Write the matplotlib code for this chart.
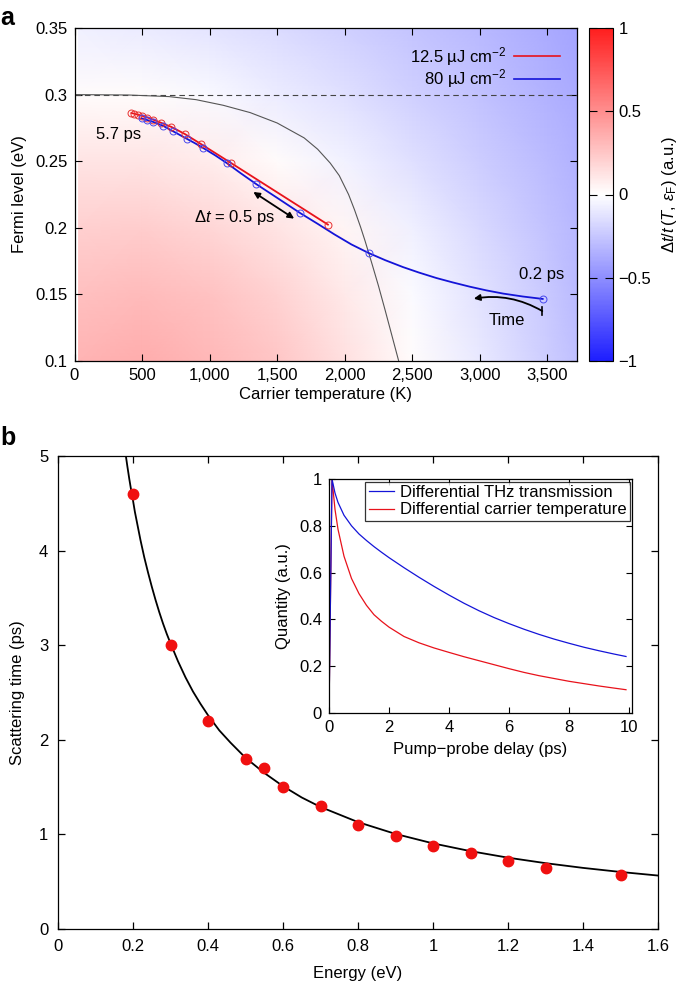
import matplotlib
matplotlib.use("Agg")
import matplotlib.pyplot as plt
import numpy as np
from matplotlib.colors import LinearSegmentedColormap
from matplotlib.lines import Line2D

plt.rcParams['font.family'] = ['Liberation Sans', 'DejaVu Sans']
plt.rcParams['font.size'] = 12
plt.rcParams['mathtext.fontset'] = 'custom'
plt.rcParams['mathtext.rm'] = 'Liberation Sans'
plt.rcParams['mathtext.it'] = 'Liberation Sans:italic'
plt.rcParams['mathtext.bf'] = 'Liberation Sans:bold'
plt.rcParams['axes.linewidth'] = 0.9

# ---------------- Panel a data ----------------
heat_T = [30, 500, 1000, 1500, 2000, 2500, 3000, 3500, 3720]
heat_mu = [0.10, 0.15, 0.20, 0.25, 0.30, 0.35]
heat_row_010 = [0.33, 0.36, 0.32, 0.25, 0.14, 0.01, -0.10, -0.22, -0.28]
heat_row_015 = [0.28, 0.30, 0.27, 0.20, 0.10, -0.02, -0.13, -0.24, -0.30]
heat_row_020 = [0.21, 0.22, 0.18, 0.12, 0.04, -0.07, -0.17, -0.27, -0.32]
heat_row_025 = [0.12, 0.12, 0.08, 0.02, -0.06, -0.14, -0.22, -0.30, -0.34]
heat_row_030 = [0.02, 0.01, -0.03, -0.08, -0.14, -0.21, -0.27, -0.34, -0.37]
heat_row_035 = [-0.07, -0.09, -0.12, -0.16, -0.21, -0.26, -0.31, -0.37, -0.40]

bound_T = [0, 400, 700, 900, 1100, 1300, 1500, 1700, 1800, 1893, 1960, 2029, 2073, 2118,
           2150, 2177, 2205, 2250, 2300, 2350, 2400]
bound_mu = [0.300, 0.2997, 0.2985, 0.2962, 0.2920, 0.2865, 0.2787, 0.2675, 0.2590, 0.2486,
            0.2392, 0.2250, 0.2135, 0.2005, 0.1905, 0.1815, 0.1720, 0.1565, 0.1380, 0.1190, 0.1000]

red_T = [1876, 1158, 936, 817, 718, 644, 582, 540, 503, 470, 444, 421]
red_mu = [0.2024, 0.2487, 0.2629, 0.2704, 0.2757, 0.2787, 0.2812, 0.2828, 0.2840, 0.2849, 0.2856, 0.2862]

blue_line_T = [3466, 3320, 3174, 3050, 2926, 2800, 2679, 2550, 2432, 2300, 2177, 2050, 1925,
               1800, 1670, 1500, 1344, 1230, 1126, 1040, 953, 890, 830, 731, 657, 582, 535, 496]
blue_line_mu = [0.1466, 0.1484, 0.1506, 0.1530, 0.1558, 0.1590, 0.1623, 0.1664, 0.1705, 0.1757,
                0.1811, 0.1875, 0.1950, 0.2030, 0.2111, 0.2225, 0.2329, 0.2410, 0.2487, 0.2545,
                0.2599, 0.2636, 0.2669, 0.2724, 0.2765, 0.2795, 0.2810, 0.2822]
blue_mark_T = [3466, 2177, 1670, 1344, 1126, 953, 830, 731, 657, 582, 535, 496]
blue_mark_mu = [0.1466, 0.1811, 0.2111, 0.2329, 0.2487, 0.2599, 0.2669, 0.2724, 0.2765, 0.2795, 0.2810, 0.2822]

a_xticks = [0, 500, 1000, 1500, 2000, 2500, 3000, 3500]
a_xticklabels = ['0', '500', '1,000', '1,500', '2,000', '2,500', '3,000', '3,500']
a_yticks = [0.1, 0.15, 0.2, 0.25, 0.3, 0.35]
a_yticklabels = ['0.1', '0.15', '0.2', '0.25', '0.3', '0.35']
cb_ticks = [-1, -0.5, 0, 0.5, 1]
cb_ticklabels = ['\u22121', '\u22120.5', '0', '0.5', '1']
legend_a = ['12.5 µJ cm$^{-2}$', '80 µJ cm$^{-2}$']

# ---------------- Panel b data ----------------
energy_pts = [0.2, 0.3, 0.4, 0.5, 0.55, 0.6, 0.7, 0.8, 0.9, 1.0, 1.1, 1.2, 1.3, 1.5]
tau_pts = [4.60, 3.00, 2.20, 1.80, 1.70, 1.50, 1.30, 1.10, 0.98, 0.88, 0.80, 0.72, 0.65, 0.57]
fit_E = [0.181, 0.185, 0.19, 0.195, 0.2, 0.205, 0.21, 0.215, 0.22, 0.23, 0.24, 0.25, 0.26,
         0.27, 0.28, 0.29, 0.3, 0.32, 0.34, 0.36, 0.38, 0.4, 0.43, 0.46, 0.5, 0.55, 0.6,
         0.65, 0.7, 0.75, 0.8, 0.9, 1.0, 1.1, 1.2, 1.3, 1.4, 1.5, 1.6]
fit_tau = [5.00, 4.89, 4.76, 4.64, 4.53, 4.41, 4.31, 4.21, 4.11, 3.93, 3.77, 3.62, 3.48,
           3.35, 3.23, 3.12, 3.02, 2.83, 2.66, 2.51, 2.38, 2.26, 2.10, 1.97, 1.81, 1.65, 1.51,
           1.39, 1.29, 1.21, 1.13, 1.005, 0.905, 0.823, 0.754, 0.696, 0.646, 0.603, 0.565]
b_xticks = [0, 0.2, 0.4, 0.6, 0.8, 1.0, 1.2, 1.4, 1.6]
b_xticklabels = ['0', '0.2', '0.4', '0.6', '0.8', '1', '1.2', '1.4', '1.6']
b_yticks = [0, 1, 2, 3, 4, 5]

# inset
inset_t = [0, 0.1, 0.2, 0.3, 0.5, 0.75, 1.0, 1.25, 1.5, 1.75, 2.0, 2.5, 3.0, 3.5, 4.0,
           4.5, 5.0, 5.5, 6.0, 6.5, 7.0, 7.5, 8.0, 8.5, 9.0, 9.5, 9.9]
inset_thz = [0, 1.0, 0.94, 0.90, 0.845, 0.80, 0.765, 0.737, 0.711, 0.687, 0.664, 0.621,
             0.580, 0.541, 0.504, 0.469, 0.437, 0.408, 0.382, 0.358, 0.336, 0.316, 0.298,
             0.281, 0.266, 0.252, 0.2415]
inset_temp = [0, 1.0, 0.87, 0.785, 0.67, 0.575, 0.51, 0.46, 0.42, 0.392, 0.367, 0.327,
              0.300, 0.278, 0.259, 0.2405, 0.2235, 0.2065, 0.1895, 0.1735, 0.1595, 0.1475,
              0.1355, 0.1255, 0.1155, 0.1065, 0.0995]
inset_xticks = [0, 2, 4, 6, 8, 10]
inset_yticks = [0, 0.2, 0.4, 0.6, 0.8, 1.0]
inset_yticklabels = ['0', '0.2', '0.4', '0.6', '0.8', '1']
legend_inset = ['Differential THz transmission', 'Differential carrier temperature']

# ---------------- Figure ----------------
W, H = 685, 985
fig = plt.figure(figsize=(W / 100, H / 100), dpi=100)

def rect(l, t, r, b):
    return [l / W, 1 - b / H, (r - l) / W, (b - t) / H]

cmap = LinearSegmentedColormap.from_list('rwb', ['#1e1eff', '#ffffff', '#ff1e1e'])

# Panel a
ax = fig.add_axes(rect(74.5, 28, 577, 361))
Z = np.array([heat_row_010, heat_row_015, heat_row_020, heat_row_025, heat_row_030, heat_row_035])
mesh = ax.pcolormesh(heat_T, heat_mu, Z, shading='gouraud', cmap=cmap, vmin=-1, vmax=1, rasterized=True)
ax.axhline(0.3, color='#444444', lw=0.8, ls=(0, (5, 3.5)))
ax.plot(bound_T, bound_mu, color='#555555', lw=0.8)
ax.plot(red_T, red_mu, color='#e8121b', lw=1.3, zorder=4)
ax.plot(red_T, red_mu, ls='none', marker='o', ms=5, mfc='none', mec='#e8302f', mew=0.7, zorder=5)
ax.plot(blue_line_T, blue_line_mu, color='#1414d8', lw=1.3, zorder=4)
ax.plot(blue_mark_T, blue_mark_mu, ls='none', marker='o', ms=5, mfc='none', mec='#4848ee', mew=0.7, zorder=5)

ax.set_xlim(0, 3720)
ax.set_ylim(0.1, 0.35)
ax.set_xticks(a_xticks)
ax.set_xticklabels(a_xticklabels)
ax.set_yticks(a_yticks)
ax.set_yticklabels(a_yticklabels)
ax.tick_params(direction='in', top=True, right=True, length=5, width=0.8, pad=5)
ax.set_xlabel('Carrier temperature (K)', labelpad=3)
ax.set_ylabel('Fermi level (eV)', labelpad=6)

ax.text(160, 0.2697, '5.7 ps', ha='left', va='center')
ax.text(3629, 0.1653, '0.2 ps', ha='right', va='center')
ax.text(3201, 0.1303, 'Time', ha='center', va='center')
ax.text(1490, 0.2079, r'$\Delta t$ = 0.5 ps', ha='right', va='center')
ax.annotate('', xy=(1626, 0.2069), xytext=(1324, 0.2269),
            arrowprops=dict(arrowstyle='<|-|>', color='black', lw=1.3, mutation_scale=9,
                            shrinkA=0, shrinkB=0))
ax.annotate('', xy=(2956, 0.1468), xytext=(3463, 0.1375),
            arrowprops=dict(arrowstyle='-|>', color='black', lw=1.3, mutation_scale=9,
                            shrinkA=0, shrinkB=0, connectionstyle='arc3,rad=0.18'))
ax.plot([3463, 3463], [0.1345, 0.1405], color='black', lw=1.2)

handles = [Line2D([], [], color='#e8121b', lw=1.2), Line2D([], [], color='#1414d8', lw=1.2)]
ax.legend(handles, legend_a, loc='upper right', frameon=False, markerfirst=False,
          handlelength=2.8, handletextpad=0.4, labelspacing=0.0, borderaxespad=0.6,
          bbox_to_anchor=(1.0, 1.0))

cax = fig.add_axes(rect(589, 28, 613, 361))
cb = fig.colorbar(mesh, cax=cax)
cb.set_ticks(cb_ticks)
cb.set_ticklabels(cb_ticklabels)
cb.outline.set_linewidth(0.8)
cax.tick_params(direction='in', left=True, right=True, length=6, width=0.8, pad=4)
cax.set_ylabel(r'$\Delta t/t\,(T,\,\varepsilon_{\mathrm{F}})$ (a.u.)', labelpad=6)

# Panel b
bx = fig.add_axes(rect(58, 456, 658, 929))
bx.plot(fit_E, fit_tau, color='black', lw=1.3, zorder=3)
bx.plot(energy_pts, tau_pts, ls='none', marker='o', ms=7.5, color='#f01010', zorder=4)
bx.set_xlim(0, 1.6)
bx.set_ylim(0, 5)
bx.set_xticks(b_xticks)
bx.set_xticklabels(b_xticklabels)
bx.set_yticks(b_yticks)
bx.tick_params(direction='in', top=True, right=True, length=5, width=0.9, pad=7)
bx.set_xlabel('Energy (eV)', labelpad=9)
bx.set_ylabel('Scattering time (ps)', labelpad=10)

ix = fig.add_axes(rect(329, 479, 632, 713))
ix.plot(inset_t, inset_temp, color='#e8121b', lw=0.9)
ix.plot(inset_t, inset_thz, color='#1414d8', lw=0.9)
ix.set_xlim(0, 10.1)
ix.set_ylim(0, 1)
ix.set_xticks(inset_xticks)
ix.set_yticks(inset_yticks)
ix.set_yticklabels(inset_yticklabels)
ix.tick_params(direction='in', top=True, right=True, length=4, width=0.8, pad=5)
ix.set_xlabel('Pump\u2212probe delay (ps)', labelpad=5)
ix.set_ylabel('Quantity (a.u.)', labelpad=6)
hi = [Line2D([], [], color='#1414d8', lw=0.9), Line2D([], [], color='#e8121b', lw=0.9)]
leg = ix.legend(hi, legend_inset, loc='upper right', frameon=True, fancybox=False,
                handlelength=1.5, handletextpad=0.35, labelspacing=0.15, borderpad=0.2,
                borderaxespad=0.15)
leg.get_frame().set_edgecolor('black')
leg.get_frame().set_linewidth(0.9)

fig.text(0.0, 1 - 25 / H, 'a', fontsize=18, fontweight='bold', ha='left', va='baseline')
fig.text(0.0, 1 - 445 / H, 'b', fontsize=18, fontweight='bold', ha='left', va='baseline')

fig.savefig('out.png', dpi=100)
